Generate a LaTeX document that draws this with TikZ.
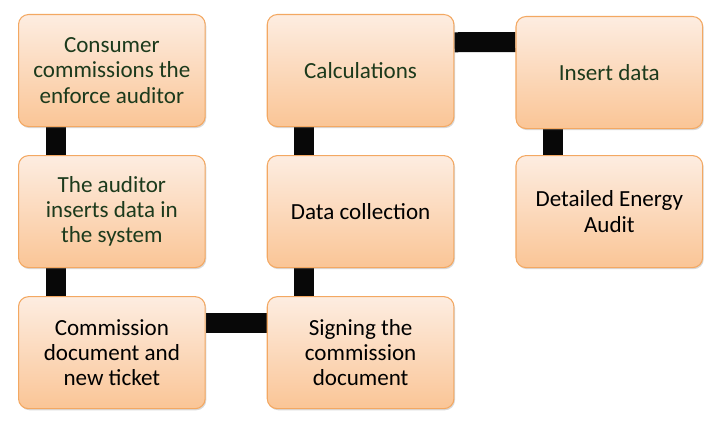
\documentclass[tikz,border=0pt]{standalone}
\usepackage{fontspec}
\setmainfont{Carlito}
\usetikzlibrary{positioning,calc,shadows,backgrounds}
\definecolor{boxtop}{RGB}{253,237,225}
\definecolor{boxbottom}{RGB}{250,197,150}
\definecolor{boxline}{RGB}{243,168,98}
\definecolor{darktext}{RGB}{28,58,28}

\begin{document}
\begin{tikzpicture}[node distance=21pt and 45.75pt,
    main node/.style={rectangle,rounded corners=7.5pt,draw=boxline,line width=0.8pt,
      top color=boxtop,bottom color=boxbottom,minimum width=140pt,minimum height=84pt,
      align=center,font=\fontsize{17.3}{18.9}\selectfont,
      drop shadow={shadow xshift=0.8pt,shadow yshift=-1.2pt,opacity=0.3}},
    link/.style={line width=15pt,color=black!97}]
  \useasboundingbox (0,0) rectangle (546pt,-321pt);

  \node[main node,text=darktext,anchor=north west] (1) at (13.5pt,-10.5pt) {Consumer\\commissions the\\enforce auditor};
  \node[main node,text=darktext] (2) [below=of 1] {The auditor\\inserts data in\\the system};
  \node[main node] (3) [below=of 2] {Commission\\document and\\new ticket};
  \node[main node] (4) [right=of 3] {Signing the\\commission\\document};
  \node[main node] (5) [above=of 4] {Data collection};
  \node[main node,text=darktext] (6) [above=of 5] {Calculations};
  \node[main node,text=darktext] (7) [right=of 6,yshift=-1.5pt] {Insert data};
  \node[main node] (8) [below=19.5pt of 7] {Detailed Energy\\Audit};

  % thick bars behind the boxes
  \begin{scope}[on background layer]
    \path[link]
      ($(1.south west)!0.2!(1.south east)$) edge ($(2.north west)!0.2!(2.north east)$)
      ($(2.south west)!0.2!(2.south east)$) edge ($(3.north west)!0.2!(3.north east)$)
      ($(3.north east)!0.24!(3.south east)$) edge ($(4.north west)!0.24!(4.south west)$)
      ($(4.north west)!0.2!(4.north east)$) edge ($(5.south west)!0.2!(5.south east)$)
      ($(5.north west)!0.2!(5.north east)$) edge ($(6.south west)!0.2!(6.south east)$)
      ($(6.north east)!0.25!(6.south east)$) edge ($(7.north west)!0.23!(7.south west)$)
      ($(7.south west)!0.2!(7.south east)$) edge ($(8.north west)!0.2!(8.north east)$);
  \end{scope}
\end{tikzpicture}
\end{document}
